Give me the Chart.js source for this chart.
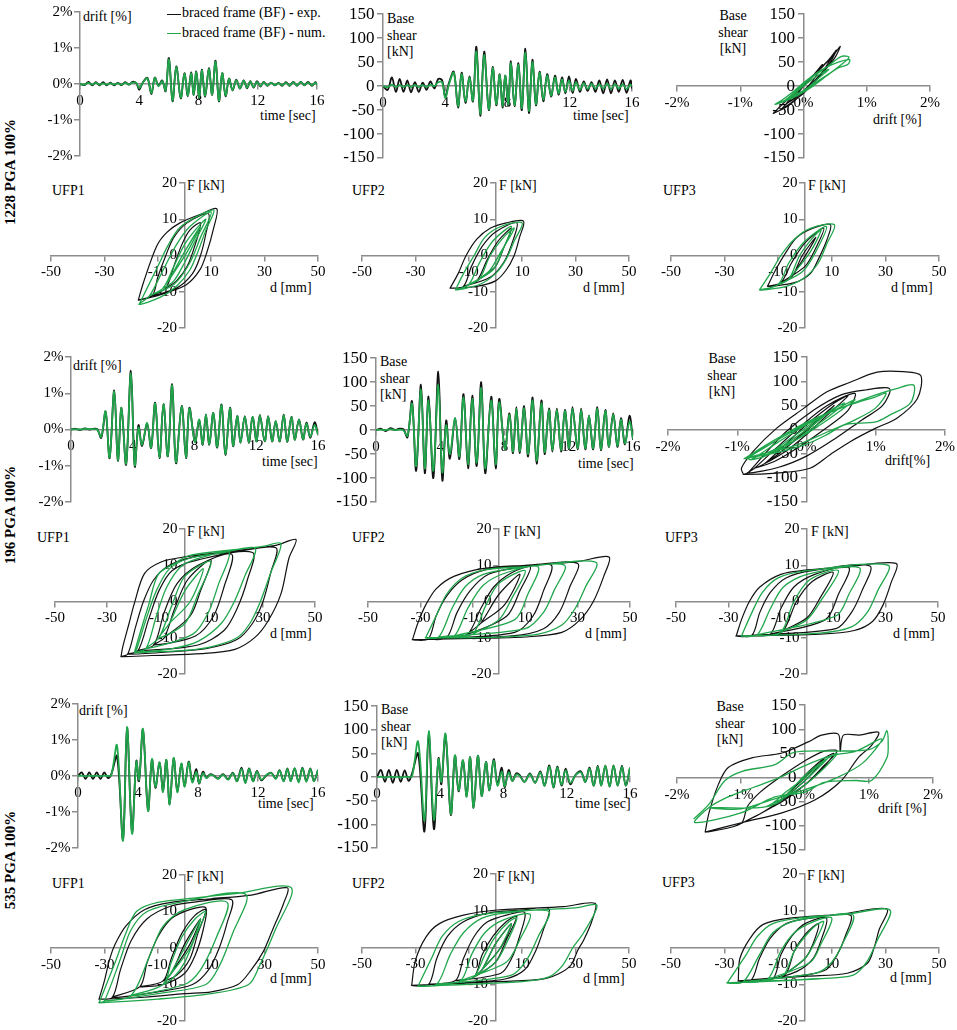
<!DOCTYPE html>
<html>
<head>
<meta charset="utf-8">
<script src="https://cdn.jsdelivr.net/npm/chart.js@4.4.1/dist/chart.umd.min.js"></script>
<style>
html,body{margin:0;padding:0;background:#fff;}
body{width:957px;height:1030px;position:relative;overflow:hidden;font-family:'Liberation Serif','Times New Roman',serif;color:#000;}
canvas{position:absolute;}
.t{position:absolute;font-size:14px;line-height:16.5px;white-space:nowrap;}
.c{text-align:center;width:70px;}
.rl{position:absolute;font-size:15px;font-weight:bold;white-space:nowrap;transform:translate(-50%,-50%) rotate(-90deg);}
.lg{position:absolute;height:0;width:14px;}
</style>
</head>
<body>
<!-- row labels -->
<div class="rl" style="left:10px;top:172px">1228 PGA 100%</div>
<div class="rl" style="left:10px;top:515px">196 PGA 100%</div>
<div class="rl" style="left:10px;top:860px">535 PGA 100%</div>

<!-- legend -->
<div class="lg" style="left:167px;top:14px;border-top:1.5px solid #111"></div>
<div class="t" style="left:182px;top:5px">braced frame (BF) - exp.</div>
<div class="lg" style="left:167px;top:33px;border-top:1.5px solid #1fa64b"></div>
<div class="t" style="left:182px;top:25px">braced frame (BF) - num.</div>

<!-- row 1 -->
<div class="t" style="left:83px;top:9px">drift [%]</div>
<div class="t" style="left:260px;top:108px">time [sec]</div>
<div class="t" style="left:387px;top:11px">Base<br>shear<br>[kN]</div>
<div class="t" style="left:573px;top:108px">time [sec]</div>
<div class="t c" style="left:698px;top:8px">Base<br>shear<br>[kN]</div>
<div class="t" style="left:873px;top:112px">drift [%]</div>
<!-- row 2 -->
<div class="t" style="left:52px;top:183px">UFP1</div>
<div class="t" style="left:187px;top:178px">F [kN]</div>
<div class="t" style="left:270px;top:280px">d [mm]</div>
<div class="t" style="left:352px;top:183px">UFP2</div>
<div class="t" style="left:499px;top:178px">F [kN]</div>
<div class="t" style="left:583px;top:280px">d [mm]</div>
<div class="t" style="left:663px;top:183px">UFP3</div>
<div class="t" style="left:808px;top:178px">F [kN]</div>
<div class="t" style="left:891px;top:280px">d [mm]</div>
<!-- row 3 -->
<div class="t" style="left:73px;top:358px">drift [%]</div>
<div class="t" style="left:262px;top:454px">time [sec]</div>
<div class="t" style="left:380px;top:354px">Base<br>shear<br>[kN]</div>
<div class="t" style="left:578px;top:456px">time [sec]</div>
<div class="t c" style="left:687px;top:351px">Base<br>shear<br>[kN]</div>
<div class="t" style="left:885px;top:453px">drift[%]</div>
<!-- row 4 -->
<div class="t" style="left:37px;top:530px">UFP1</div>
<div class="t" style="left:187px;top:524px">F [kN]</div>
<div class="t" style="left:270px;top:626px">d [mm]</div>
<div class="t" style="left:352px;top:530px">UFP2</div>
<div class="t" style="left:503px;top:524px">F [kN]</div>
<div class="t" style="left:585px;top:626px">d [mm]</div>
<div class="t" style="left:665px;top:530px">UFP3</div>
<div class="t" style="left:811px;top:524px">F [kN]</div>
<div class="t" style="left:893px;top:626px">d [mm]</div>
<!-- row 5 -->
<div class="t" style="left:79px;top:703px">drift [%]</div>
<div class="t" style="left:258px;top:796px">time [sec]</div>
<div class="t" style="left:381px;top:702px">Base<br>shear<br>[kN]</div>
<div class="t" style="left:575px;top:796px">time [sec]</div>
<div class="t c" style="left:695px;top:699px">Base<br>shear<br>[kN]</div>
<div class="t" style="left:878px;top:801px">drift [%]</div>
<!-- row 6 -->
<div class="t" style="left:52px;top:876px">UFP1</div>
<div class="t" style="left:186px;top:869px">F [kN]</div>
<div class="t" style="left:270px;top:971px">d [mm]</div>
<div class="t" style="left:352px;top:876px">UFP2</div>
<div class="t" style="left:497px;top:869px">F [kN]</div>
<div class="t" style="left:583px;top:971px">d [mm]</div>
<div class="t" style="left:662px;top:875px">UFP3</div>
<div class="t" style="left:807px;top:868px">F [kN]</div>
<div class="t" style="left:890px;top:970px">d [mm]</div>

<script>
// ================= DATA =================
// Record 1228 : time [s], drift [%], base shear [kN]
const t1228 = [0,0.3,0.57,0.83,1.07,1.32,1.56,1.8,2.05,2.3,2.55,2.8,3.05,3.3,3.55,3.8,
  4.0,4.25,4.55,4.82,5.05,5.3,5.55,5.78,
  6.0,6.25,6.5,6.8,7.05,7.28,7.5,7.68,7.85,8.05,8.22,8.45,8.7,8.92,9.15,9.38,9.6,9.83,10.06,10.3,10.55,10.8,11.05,11.28,11.5,11.72,11.95,12.18,12.4,
  12.65,12.9,13.15,13.4,13.65,13.9,14.15,14.4,14.65,14.9,15.15,15.4,15.65,15.9,16];
const drift1228Exp = [0,-0.03,0.06,-0.04,0.05,-0.04,0.05,-0.04,0.04,-0.04,0.03,-0.03,0.05,-0.02,0.06,0.02,
  -0.16,0.05,0.17,-0.28,0.18,-0.05,0.1,-0.2,
  0.72,-0.48,0.49,-0.4,0.3,-0.34,0.32,-0.3,0.35,-0.4,0.4,-0.35,0.44,-0.3,0.65,-0.48,0.3,-0.34,0.15,-0.18,0.12,-0.13,0.1,-0.12,0.08,-0.1,0.08,-0.07,0.06,
  -0.05,0.04,-0.04,0.03,-0.05,0.05,-0.05,0.06,-0.05,0.06,-0.04,0.06,-0.05,0.05,-0.02];
const drift1228Num = [0,-0.02,0.03,-0.02,0.03,-0.02,0.02,-0.02,0.02,-0.02,0.02,-0.02,0.03,-0.01,0.04,0.03,
  -0.12,0.04,0.16,-0.25,0.17,-0.06,0.08,-0.18,
  0.68,-0.46,0.47,-0.38,0.29,-0.33,0.3,-0.3,0.33,-0.38,0.38,-0.33,0.42,-0.29,0.62,-0.46,0.3,-0.32,0.14,-0.17,0.11,-0.12,0.09,-0.1,0.07,-0.09,0.06,-0.06,0.05,
  -0.04,0.03,-0.03,0.02,-0.03,0.03,-0.04,0.05,-0.04,0.05,-0.03,0.04,-0.04,0.04,-0.03];
const shear1228Exp = [0,-8,18,-12,15,-12,12,-13,8,-12,7,-8,10,-5,15,12,
  -22,8,30,-45,28,-35,20,-32,
  82,-62,72,-50,40,-40,25,-45,22,-40,52,-42,48,-50,78,-56,55,-40,30,-32,25,-22,22,-18,18,-15,20,-14,15,
  -12,10,-10,8,-12,12,-15,14,-15,12,-12,13,-14,12,-5];
const shear1228Num = [0,-2,3,-2,2,-2,2,-2,2,-2,2,-2,3,0,8,8,
  -25,5,28,-42,25,-32,18,-30,
  72,-58,65,-48,38,-38,24,-42,22,-38,48,-40,45,-46,70,-52,50,-38,28,-28,22,-20,18,-15,14,-12,12,-10,8,
  -8,6,-6,5,-5,4,-5,5,-6,4,-5,4,-6,3,0];

// Record 196
const t196 = [0,0.3,0.6,0.9,1.2,1.45,1.7,1.96,
  2.24,2.5,2.8,3.04,3.27,3.57,3.88,4.13,4.37,4.6,
  4.93,5.19,5.45,5.73,5.99,6.27,6.55,6.8,7.17,7.45,
  7.67,8.03,8.31,8.53,8.74,8.96,9.22,9.47,9.75,10.0,
  10.3,10.5,10.77,10.98,11.26,11.52,11.76,12.02,12.23,12.55,
  12.77,13.03,13.26,13.52,13.78,14.0,14.28,14.49,14.77,15.03,
  15.25,15.5,15.78,16];
const drift196Exp = [0,0.02,-0.01,0.03,0,0.02,0.01,-0.23,
  0.49,-0.79,1.08,-0.86,0.6,-0.97,1.62,-1.02,0.12,-0.46,
  0.16,-0.51,0.74,-0.79,0.7,-0.74,1.25,-0.93,0.65,-0.79,
  0.6,-0.33,0.25,-0.42,0.42,-0.42,0.46,-0.5,0.69,-0.7,
  0.6,-0.46,0.37,-0.37,0.37,-0.37,0.35,-0.33,0.4,-0.33,
  0.37,-0.33,0.23,-0.33,0.42,-0.34,0.35,-0.28,0.28,-0.28,
  0.19,-0.23,0.2,-0.12];
const drift196Num = [0,0.01,0,0.02,0.01,0.01,0,-0.2,
  0.5,-0.77,1.05,-0.84,0.6,-0.94,1.55,-0.98,0.05,-0.42,
  0.18,-0.5,0.72,-0.77,0.7,-0.73,1.22,-0.9,0.63,-0.77,
  0.58,-0.35,0.28,-0.4,0.42,-0.4,0.46,-0.48,0.67,-0.68,
  0.58,-0.45,0.37,-0.36,0.36,-0.36,0.35,-0.33,0.39,-0.32,
  0.36,-0.32,0.24,-0.32,0.4,-0.33,0.34,-0.28,0.27,-0.27,
  0.16,-0.2,0.12,-0.14];
const shear196Exp = [0,3,-2,4,0,3,2,-15,
  60,-85,95,-90,70,-100,122,-105,20,-60,
  25,-60,75,-80,72,-75,100,-90,70,-80,
  65,-40,35,-48,48,-48,50,-55,68,-70,
  62,-50,45,-45,45,-45,42,-40,48,-40,
  45,-40,30,-40,48,-42,42,-35,35,-35,
  25,-30,30,-20];
const shear196Num = [0,1,0,2,0,1,0,-12,
  55,-75,85,-80,62,-85,95,-88,10,-50,
  25,-55,68,-72,65,-68,88,-80,62,-72,
  58,-40,32,-45,45,-45,46,-50,62,-64,
  56,-46,42,-42,42,-42,40,-38,45,-38,
  42,-38,30,-38,45,-40,40,-34,33,-33,
  22,-28,18,-18];

// Record 535
const t535 = [0,0.25,0.5,0.75,1.0,1.25,1.5,1.75,2.0,2.22,
  2.6,3.0,3.27,3.6,3.89,4.07,4.33,4.67,4.93,5.16,
  5.44,5.67,5.89,6.11,6.38,6.62,6.89,7.11,7.38,7.62,
  7.89,8.07,8.33,8.56,8.8,9.0,9.33,9.67,10.0,10.33,
  10.6,10.9,11.16,11.4,11.67,11.93,12.22,12.56,12.89,13.18,
  13.44,13.71,13.96,14.18,14.44,14.71,14.96,15.22,15.49,15.73,
  16];
const drift535Exp = [0,0.1,-0.08,0.1,-0.08,0.1,-0.08,0.1,-0.06,0.05,
  0.55,-1.75,1.33,-1.55,0.42,-0.14,1.28,-0.95,0.45,-0.33,
  0.37,-0.42,0.44,-0.78,0.49,-0.42,0.33,-0.28,0.4,-0.14,
  0.19,-0.21,0.12,-0.05,0.05,0.03,-0.07,0.05,-0.09,0.09,
  -0.14,0.23,-0.19,0.21,-0.14,0.14,-0.12,0.02,0.09,-0.07,
  0.16,-0.14,0.21,-0.14,0.21,-0.16,0.23,-0.14,0.21,-0.14,
  0.16];
const drift535Num = [0,0.01,-0.01,0.01,0,0.01,-0.01,0.01,0,0.02,
  0.85,-1.8,1.36,-1.6,0.4,-0.1,1.31,-0.97,0.47,-0.3,
  0.38,-0.45,0.45,-0.8,0.5,-0.45,0.35,-0.3,0.38,-0.18,
  0.12,-0.2,0.08,-0.06,0.03,0.02,-0.08,0.04,-0.1,0.08,
  -0.15,0.2,-0.2,0.2,-0.15,0.12,-0.1,0.03,0.08,-0.08,
  0.15,-0.15,0.2,-0.15,0.22,-0.18,0.22,-0.16,0.2,-0.15,
  0.18];
const shear535Exp = [0,15,-10,15,-12,15,-10,14,-8,8,
  50,-115,92,-110,40,-15,88,-80,45,-30,
  35,-40,42,-65,45,-40,32,-28,38,-15,
  20,-22,15,-8,8,5,-10,8,-12,12,
  -18,25,-22,22,-18,18,-15,5,12,-10,
  20,-18,24,-18,24,-20,25,-18,24,-18,
  20];
const shear535Num = [0,1,-1,1,0,1,-1,1,0,2,
  75,-92,98,-90,38,-10,92,-78,46,-28,
  36,-42,42,-65,45,-40,32,-28,35,-18,
  12,-20,10,-8,5,3,-10,6,-12,10,
  -18,22,-22,20,-16,14,-12,4,10,-10,
  18,-18,22,-18,24,-20,24,-18,22,-18,
  20];

// Base shear vs drift loops: [drift (%), base shear (kN)]
const hyst1228Exp = [[-0.48,-57],[-0.35,-40],[-0.15,-15],[0.05,10],[0.25,35],[0.45,60],[0.58,83],[0.5,60],[0.35,35],[0.15,5],[-0.05,-20],[-0.25,-42],[-0.48,-57],
  [-0.35,-48],[-0.2,-25],[0,0],[0.2,28],[0.4,55],[0.52,75],[0.4,45],[0.2,15],[0,-15],[-0.2,-35],[-0.35,-48],
  [-0.25,-35],[-0.1,-12],[0.1,15],[0.3,40],[0.45,62],[0.3,30],[0.1,0],[-0.1,-22],[-0.25,-35],
  [-0.15,-25],[0,0],[0.15,22],[0.3,45],[0.15,12],[0,-10],[-0.15,-25]];
const hyst1228Num = [[-0.45,-38],[-0.35,-30],[-0.15,-10],[0.05,12],[0.3,35],[0.55,50],[0.73,55],[0.7,45],[0.55,38],[0.35,20],[0.15,0],[-0.1,-20],[-0.3,-32],[-0.45,-38],
  [-0.3,-30],[-0.1,-8],[0.1,15],[0.35,38],[0.6,62],[0.72,60],[0.6,45],[0.45,30],[0.2,8],[0,-12],[-0.2,-25],[-0.3,-30],
  [-0.2,-22],[0,0],[0.2,20],[0.4,35],[0.25,18],[0.05,-5],[-0.2,-22]];
const hyst196Exp = [[-0.91,-93],[-0.94,-80],[-0.77,-45],[-0.43,3],[-0.04,44],[0.29,78],[0.63,98],[1.02,119],[1.4,120],[1.65,112],[1.6,64],[1.3,23],[1.0,3],[0.63,-25],[0.34,-52],[0.05,-80],[-0.43,-90],[-0.91,-93],
  [-0.85,-90],[-0.6,-50],[-0.3,-5],[0.1,40],[0.5,72],[0.85,82],[1.2,85],[1.1,50],[0.8,20],[0.4,-20],[0,-55],[-0.4,-78],[-0.85,-90],
  [-0.75,-80],[-0.45,-40],[-0.1,5],[0.3,50],[0.7,75],[0.6,40],[0.3,5],[-0.1,-35],[-0.45,-65],[-0.75,-80],
  [-0.6,-70],[-0.3,-30],[0,10],[0.4,55],[0.6,70],[0.3,30],[0,-10],[-0.3,-45],[-0.6,-70],[-0.4,-50],[0,0],[0.4,50],[0.1,10],[-0.4,-50]];
const hyst196Num = [[-0.9,-60],[-0.5,-25],[0,15],[0.5,45],[1.0,72],[1.3,85],[1.55,92],[1.5,55],[1.2,30],[1.0,16],[0.55,10],[0.3,-10],[0,-30],[-0.5,-50],[-0.9,-60],
  [-0.85,-58],[-0.4,-20],[0.1,20],[0.6,50],[1.0,68],[1.15,75],[1.0,45],[0.7,20],[0.3,-5],[-0.2,-35],[-0.85,-58],
  [-0.8,-62],[-0.4,-25],[0,10],[0.4,40],[0.7,62],[0.5,40],[0.2,10],[-0.2,-25],[-0.8,-62],
  [-0.6,-55],[-0.3,-25],[0,5],[0.3,35],[0.55,55],[0.3,25],[0,-5],[-0.3,-35],[-0.6,-55],[-0.4,-40],[0,0],[0.4,45],[0.1,10],[-0.4,-40]];
const hyst535Exp = [[-1.56,-113],[-1.5,-73],[-1.35,-13],[-1.2,21],[-0.83,41],[-0.36,51],[0.05,74],[0.26,88],[0.52,90],[0.55,55],[0.6,88],[0.85,88],[1.15,94],[1.04,67],[0.83,41],[0.57,-6],[0.16,-46],[-0.36,-73],[-0.98,-93],[-1.56,-113],
  [-1.0,-95],[-0.9,-60],[-0.7,-30],[-0.4,0],[0,35],[0.3,55],[0.5,55],[0.3,25],[0,-15],[-0.4,-50],[-0.7,-75],[-1.0,-95],
  [-0.5,-60],[-0.25,-30],[0,0],[0.25,35],[0.45,50],[0.25,15],[0,-15],[-0.3,-45],[-0.5,-60],[-0.3,-40],[0,5],[0.3,40],[0.05,0],[-0.3,-40]];
const hyst535Num = [[-1.74,-86],[-1.5,-55],[-1.25,-6],[-0.98,13],[-0.47,27],[-0.2,51],[0.05,55],[0.5,55],[1.0,58],[1.2,75],[1.28,97],[1.3,70],[1.28,41],[1.04,-6],[0.8,-6],[0.3,-10],[0,-30],[-0.47,-40],[-1.0,-73],[-1.72,-93],
  [-1.5,-62],[-1.2,-40],[-0.8,-20],[-0.4,0],[0,25],[0.4,45],[0.8,55],[1.2,80],[0.9,30],[0.5,0],[0,-25],[-0.5,-45],[-1.0,-65],[-1.5,-62],
  [-0.6,-60],[-0.3,-30],[0,0],[0.3,35],[0.5,50],[0.3,20],[0,-15],[-0.3,-40],[-0.6,-60],[-0.4,-50],[0,5],[0.35,40],[0.05,0],[-0.4,-50]];

// UFP force-displacement loops: [d (mm), F (kN)]
const ufp1228_1Exp = [[-17.3,-12.3],[-15.4,-7.5],[-10.4,2.6],[-6.7,6.3],[-1.7,9],[5.8,11.3],[12.1,12.9],[10.8,7.2],[8.3,0.7],[5.8,-3.9],[0.8,-8],[-6.7,-10.3],[-12.4,-11.5],[-17.3,-12.3],
  [-12,-11],[-10,-6],[-7,0],[-4,5],[1,9],[9,11.5],[8,6],[6,0],[3,-5],[-3,-9],[-12,-11],
  [-7,-9],[-4,-3],[-1,3],[2,7],[6,9],[4,3],[1,-3],[-3,-7],[-7,-9]];
const ufp1228_1Num = [[-17,-13.5],[-14,-9],[-10,-3],[-6,3],[-2,7.5],[4,10.5],[11,12.5],[8,7],[5,1],[2,-4],[-3,-8.5],[-9,-11.5],[-17,-13.5],
  [-13,-11],[-8,-4],[-3,3],[2,8],[10,12],[6,5],[2,-2],[-4,-8],[-13,-11],
  [-8,-9],[-4,-3],[0,3],[4,7],[8,10],[4,4],[0,-2],[-4,-7],[-8,-9],[-6,-7],[0,1],[6,8],[1,1],[-6,-7]];
const ufp1228_2Exp = [[-17,-9],[-14,-5],[-11,0],[-7,4.5],[-2,7.5],[4,9],[10.5,9.5],[9,5],[7,0],[4,-4],[0,-7],[-7,-8.5],[-17,-9],
  [-12,-8.5],[-9,-3],[-5,2.5],[0,6.5],[8,9],[6,3],[3,-2],[-2,-6],[-12,-8.5],
  [-7,-7],[-3,-1],[1,4],[6,7.5],[3,2],[0,-3],[-7,-7]];
const ufp1228_2Num = [[-15,-9.5],[-12,-5],[-8,0],[-4,5],[2,8],[10,9],[7,4],[4,-1],[0,-5],[-6,-8],[-15,-9.5],
  [-10,-8],[-6,-2],[-1,4],[6,8],[3,2],[-1,-4],[-10,-8],
  [-6,-6.5],[-2,0],[3,5],[7,7.5],[2,1],[-2,-4],[-6,-6.5]];
const ufp1228_3Exp = [[-14,-8.5],[-11,-4],[-7,1],[-3,5],[3,7.5],[9.5,8.5],[8,4],[5,-1],[2,-5],[-4,-7.5],[-14,-8.5],
  [-9,-7.5],[-5,-2],[0,3.5],[7,7.5],[4,2],[0,-3],[-9,-7.5],
  [-5,-6],[-1,0],[4,5],[1,1],[-5,-6]];
const ufp1228_3Num = [[-17,-9.5],[-13,-5],[-9,0],[-4,4.5],[2,7.5],[11,8.5],[8,3],[5,-2],[0,-6],[-7,-8.5],[-17,-9.5],
  [-10,-8],[-6,-2],[0,4],[8,8],[4,1],[-1,-4.5],[-10,-8],
  [-6,-6.5],[-2,0],[3,5],[6,7],[2,1],[-6,-6.5]];

const ufp196_1Exp = [[-24.6,-15.2],[-24,-12.7],[-21.5,-6],[-19.5,-0.6],[-15.6,7.7],[-9.2,10.9],[-0.2,12.3],[19,14],[35,15.5],[42.7,17.1],[40,12],[36.9,2.1],[32,-5.3],[26.9,-9.9],[19.2,-13.2],[6.4,-14.4],[-12.8,-14.9],[-24.6,-15.2],
  [-22,-14.5],[-19,-7],[-16,0],[-12,6],[-6,10],[5,12.5],[20,13.8],[35,14.8],[33,8],[30,0],[26,-6],[20,-10.5],[8,-13],[-8,-14],[-22,-14.5],
  [-18,-13.5],[-14,-5],[-10,3],[-5,8.5],[5,11.5],[26,13.5],[24,6],[20,-2],[15,-8],[5,-12],[-18,-13.5],
  [-12,-12],[-8,-3],[-3,5],[5,10],[18,13],[15,4],[11,-4],[4,-9.5],[-12,-12],
  [-8,-10],[-4,-2],[1,6],[10,11.5],[6,3],[2,-4],[-8,-10]];
const ufp196_1Num = [[-19.5,-14.1],[-17,-8],[-14,-1],[-10.3,7.5],[-4,10.5],[1.3,12.6],[15,14],[30,15.2],[36.9,16],[33,8],[29,0],[25,-6],[20,-10],[10,-12.5],[0,-13.5],[-19.5,-14.1],
  [-19,-14],[-15,-5],[-11,3],[-6,9],[2,12],[15,13.5],[27,14.7],[23,7],[19,0],[14,-6],[5,-11],[-5,-13],[-19,-14],
  [-15,-13],[-11,-4],[-7,4],[-1,10],[8,12.5],[17,13.5],[13,5],[9,-3],[3,-9],[-15,-13],
  [-10,-10],[-5,-1],[0,7],[10,11],[5,2],[0,-6],[-10,-10],[-6,-6],[0,3],[7,9],[2,0],[-6,-6]];
const ufp196_2Exp = [[-33,-10.5],[-31,-6],[-28,-1],[-24,3.5],[-17,7],[-5,9.2],[10,10],[30,11],[42,12.3],[40,7],[36,0],[31,-5],[24,-8.5],[10,-9.8],[-10,-10.2],[-33,-10.5],
  [-27,-10.3],[-24,-4],[-20,1.5],[-14,6],[-5,8.8],[10,9.8],[30,10.5],[27,4],[23,-3],[17,-7.5],[5,-9.5],[-27,-10.3],
  [-20,-10],[-16,-3],[-11,3],[-4,7.5],[8,9.5],[20,10],[17,3],[13,-4],[6,-8.5],[-20,-10],
  [-12,-9],[-7,-2],[-2,4],[5,8],[12,9.5],[8,3],[3,-4],[-12,-9],[-7,-6],[0,2],[8,7.5],[2,-1],[-7,-6]];
const ufp196_2Num = [[-28,-10],[-24,-4],[-20,2],[-14,6.5],[-5,8.8],[10,9.6],[37,10.8],[33,4],[29,-2],[24,-6.5],[15,-9],[0,-9.8],[-28,-10],
  [-23,-9.8],[-18,-2],[-13,4],[-6,7.5],[5,9],[25,10],[21,3],[17,-3],[10,-7.5],[-23,-9.8],
  [-17,-9.5],[-12,-2],[-6,4.5],[3,8],[15,9.5],[11,2],[6,-5],[-17,-9.5],
  [-10,-9],[-5,-1],[0,5],[10,8.5],[5,1],[0,-5],[-10,-9]];
const ufp196_3Exp = [[-27,-9.5],[-25,-5],[-22,0],[-18,4],[-10,7.5],[0,8.7],[15,9.5],[34,10.5],[32,5],[29,-1],[25,-5.5],[18,-8],[5,-9],[-27,-9.5],
  [-21,-9.3],[-18,-3],[-14,2.5],[-8,6.5],[2,8.5],[24,9.8],[21,3],[17,-3],[11,-7.5],[-21,-9.3],
  [-14,-9],[-10,-2],[-5,4],[3,7.5],[16,9.3],[12,2],[7,-5],[-14,-9],
  [-9,-8],[-4,0],[2,5.5],[10,8],[5,1],[0,-4.5],[-9,-8]];
const ufp196_3Num = [[-25,-9.5],[-21,-3],[-17,2.5],[-11,6.5],[0,8.5],[31,10],[27,3],[23,-3],[17,-7],[5,-8.7],[-25,-9.5],
  [-19,-9.2],[-14,-2],[-9,4],[0,7.5],[20,9.3],[16,2],[11,-4],[-19,-9.2],
  [-10,-8.5],[-5,0],[1,6],[12,8.5],[6,1],[0,-5],[-10,-8.5]];

const ufp535_1Exp = [[-32,-14],[-30,-9],[-28,-3],[-26,1],[-22,6],[-15,10.5],[-5,12.5],[10,13.5],[25,14.5],[38.5,16.5],[37,12],[33,5],[29.5,-1],[25,-6],[20,-10],[10,-12],[0,-12.5],[-15,-13.5],[-32,-14],
  [-27,-13.5],[-24,-6],[-20,2],[-14,8],[-5,11.5],[5,12.7],[17.7,13.2],[16,7],[13,0],[9,-6],[3,-10],[-10,-12],[-27,-13.5],
  [-16.7,-10.6],[-14,-4],[-10,3],[-5,8],[2,10.5],[8,11],[7,5],[4,-2],[0,-7],[-8,-10],[-16.7,-10.6],
  [-8,-9],[-5,-3],[-1,4],[4,9],[8,10.5],[5,4],[2,-3],[-3,-7.5],[-8,-9],[-5,-7],[0,1],[6,8],[2,1],[-5,-7]];
const ufp535_1Num = [[-32,-15],[-26,-4],[-22,4],[-18,10],[-10,12.5],[5,13.8],[20,15],[40,16.5],[34,5],[28,-5],[24,-10],[10,-12.5],[-10,-14],[-32,-15],
  [-30,-14.5],[-24,-3],[-20,5],[-14,10],[0,12.8],[23,14.7],[18,4],[13,-5],[8,-10],[-10,-12.5],[-30,-14.5],
  [-20,-13],[-13,-2],[-8,6],[0,10.5],[16,12.5],[12,3],[6,-6],[0,-10],[-20,-13],
  [-8,-10],[-5,-4],[-1,3],[4,8],[8,10],[4,3],[0,-4],[-4,-8],[-8,-10],[-6,-8],[0,0],[6,8],[2,0],[-6,-8]];
const ufp535_2Exp = [[-31.4,-10.3],[-30,-3.5],[-26,2.9],[-21,6.5],[-12,8.8],[0.5,10.2],[25.5,11.1],[37.3,12],[36,7],[33,2],[30.9,-0.6],[27.8,-5.2],[19,-8.4],[0.5,-9.3],[-15,-9.8],[-31.4,-10.3],
  [-25,-10],[-22,-3],[-18,3],[-12,7],[-3,9.3],[10,10.2],[20,10.5],[18,5],[15,-1],[11,-6],[4,-8.5],[-10,-9.5],[-25,-10],
  [-15,-9],[-12,-3],[-8,3],[-3,7],[5,9],[11,9.5],[9,3],[6,-3],[2,-7],[-15,-9],
  [-8,-8],[-5,-2],[-1,3],[4,7],[8,8.5],[4,2],[0,-4],[-8,-8],[-5,-6],[0,1],[6,6.5],[2,0],[-5,-6]];
const ufp535_2Num = [[-29,-10.5],[-24,-3],[-20,3],[-14,7],[-5,9],[10,10],[30,10.8],[38,11.5],[33,4],[29,0],[25,-5],[20,-8],[10,-9.3],[-10,-10],[-29,-10.5],
  [-22,-10],[-17,-2],[-12,4],[-5,8],[5,9.5],[20,9.8],[16,3],[12,-3],[6,-7.5],[-22,-10],
  [-13,-9],[-9,-2],[-4,4],[3,7.5],[13,9],[9,2],[4,-4],[-13,-9],
  [-8,-8],[-4,-2],[0,3],[5,7],[8,8],[4,1],[0,-4],[-8,-8],[-5,-6],[0,1],[6,6.5],[1,-1],[-5,-6]];
const ufp535_3Exp = [[-24.9,-9.1],[-24.3,-3],[-20.5,2.5],[-15.6,6.3],[-5.6,8],[13,9],[30.5,10.5],[27.6,4.7],[25.8,0],[23.3,-4.3],[15.8,-7],[0.9,-7.8],[-24.9,-9.1],
  [-20,-8.8],[-17,-3],[-13,2.5],[-7,6.5],[2,8],[17,8.8],[15,3],[12,-2],[8,-6],[0,-7.5],[-20,-8.8],
  [-12,-8.5],[-9,-2],[-5,3],[0,6.5],[8,8],[6,2],[3,-3],[-3,-6.5],[-12,-8.5],
  [-7,-7],[-4,-1],[0,3.5],[5,6.5],[3,1],[0,-3],[-7,-7]];
const ufp535_3Num = [[-29,-9.6],[-22,-2],[-17.8,3],[-12,6.5],[0,8.2],[15,9],[31.7,10.2],[27,2],[23,-4],[18,-7.5],[5,-8.5],[-29,-9.6],
  [-23,-9.3],[-17,-2],[-12,4],[-5,7],[5,8.3],[18,8.8],[14,1],[10,-4],[4,-7],[-23,-9.3],
  [-14,-8.7],[-9,-1],[-4,4],[3,7],[10,8],[6,1],[2,-4],[-14,-8.7],
  [-8,-7.5],[-4,-1],[0,3],[4,6],[7,7],[3,0.5],[0,-3],[-8,-7.5]];

// tick settings
const timeTicks = {min: 0, max: 16, step: 4};
const driftTicks = {min: -2, max: 2, step: 1};
const shearTicks = {min: -150, max: 150, step: 50};
const dispTicks = {min: -50, max: 50, step: 20};
const forceTicks = {min: -20, max: 20, step: 10};

// ================= DRAWING =================
const FONT = "'Liberation Serif','Times New Roman',serif";
const AXIS_COLOR = '#8c8c8c';
const EXP_COLOR = '#111111';
const NUM_COLOR = '#1fa64b';

function scale(tk, pos, fmt, size) {
  return {
    type: 'linear', min: tk.min, max: tk.max, position: pos,
    grid: {drawOnChartArea: false, drawTicks: true, tickLength: 5, color: AXIS_COLOR, lineWidth: 1.5},
    border: {display: true, color: AXIS_COLOR, width: 1.5},
    ticks: {stepSize: tk.step, color: '#000', font: {family: FONT, size: size || 15}, padding: 3,
            maxRotation: 0, minRotation: 0, autoSkip: false, callback: fmt}
  };
}
const fPlain = v => String(v);
const fPct = v => v + '%';
const fYPct = v => v + '%  ';
const fY = v => v + '  ';

function toXY(xs, ys) { return xs.map((x, i) => ({x: x, y: ys[i]})); }
function toPts(arr) { return arr.map(p => ({x: p[0], y: p[1]})); }
function line(data, color, width, order, tension) {
  return {data: data, borderColor: color, backgroundColor: color, borderWidth: width, showLine: true,
          pointRadius: 0, pointHoverRadius: 0, tension: tension, fill: false, order: order};
}

function panel(area, xs, ys, datasets) {
  const pad = {left: 48, right: 26, top: 12, bottom: 14};
  const l = area[0], r = area[1], tp = area[2], b = area[3];
  const w = Math.round(r - l + pad.left + pad.right);
  const h = Math.round(b - tp + pad.top + pad.bottom);
  const cv = document.createElement('canvas');
  cv.width = w; cv.height = h;
  cv.style.left = (l - pad.left) + 'px';
  cv.style.top = (tp - pad.top) + 'px';
  cv.style.width = w + 'px'; cv.style.height = h + 'px';
  document.body.appendChild(cv);
  new Chart(cv.getContext('2d'), {
    type: 'scatter',
    data: {datasets: datasets},
    options: {
      responsive: false, animation: false, devicePixelRatio: 1, events: [],
      layout: {padding: pad},
      plugins: {legend: {display: false}, tooltip: {enabled: false}},
      scales: {x: xs, y: ys}
    }
  });
}

function timePanel(area, t, exp, num, yTk, yFmt, ySize) {
  panel(area, scale(timeTicks, {y: 0}, fPlain), scale(yTk, {x: 0}, yFmt, ySize),
    [line(toXY(t, exp), EXP_COLOR, 1.8, 2, 0.35), line(toXY(t, num), NUM_COLOR, 1.8, 1, 0.35)]);
}
function loopPanel(area, xTk, xFmt, yTk, ySize, exp, num) {
  panel(area, scale(xTk, {y: 0}, xFmt), scale(yTk, {x: 0}, fY, ySize),
    [line(toPts(exp), EXP_COLOR, 1.2, 2, 0.3), line(toPts(num), NUM_COLOR, 1.3, 1, 0.3)]);
}

// row 1 : record 1228
timePanel([80, 317, 12, 156], t1228, drift1228Exp, drift1228Num, driftTicks, fYPct, 15);
timePanel([383, 632, 13, 158], t1228, shear1228Exp, shear1228Num, shearTicks, fY, 17);
loopPanel([677, 930, 13, 158], driftTicks, fPct, shearTicks, 17, hyst1228Exp, hyst1228Num);
// row 2
loopPanel([51, 318, 183, 328], dispTicks, fPlain, forceTicks, 15, ufp1228_1Exp, ufp1228_1Num);
loopPanel([362, 629, 183, 328], dispTicks, fPlain, forceTicks, 15, ufp1228_2Exp, ufp1228_2Num);
loopPanel([671, 939, 183, 328], dispTicks, fPlain, forceTicks, 15, ufp1228_3Exp, ufp1228_3Num);
// row 3 : record 196
timePanel([71, 318, 357, 502], t196, drift196Exp, drift196Num, driftTicks, fYPct, 15);
timePanel([376, 633, 357, 502], t196, shear196Exp, shear196Num, shearTicks, fY, 17);
loopPanel([668, 945, 356, 502], driftTicks, fPct, shearTicks, 17, hyst196Exp, hyst196Num);
// row 4
loopPanel([55, 315, 529, 674], dispTicks, fPlain, forceTicks, 15, ufp196_1Exp, ufp196_1Num);
loopPanel([368, 630, 529, 674], dispTicks, fPlain, forceTicks, 15, ufp196_2Exp, ufp196_2Num);
loopPanel([676, 938, 529, 674], dispTicks, fPlain, forceTicks, 15, ufp196_3Exp, ufp196_3Num);
// row 5 : record 535
timePanel([78, 318, 704, 848], t535, drift535Exp, drift535Num, driftTicks, fYPct, 15);
timePanel([377, 630, 705, 848], t535, shear535Exp, shear535Num, shearTicks, fY, 17);
loopPanel([677, 933, 704, 850], driftTicks, fPct, shearTicks, 17, hyst535Exp, hyst535Num);
// row 6
loopPanel([51, 318, 875, 1021], dispTicks, fPlain, forceTicks, 15, ufp535_1Exp, ufp535_1Num);
loopPanel([362, 629, 874, 1021], dispTicks, fPlain, forceTicks, 15, ufp535_2Exp, ufp535_2Num);
loopPanel([671, 939, 874, 1021], dispTicks, fPlain, forceTicks, 15, ufp535_3Exp, ufp535_3Num);
</script>
</body>
</html>
